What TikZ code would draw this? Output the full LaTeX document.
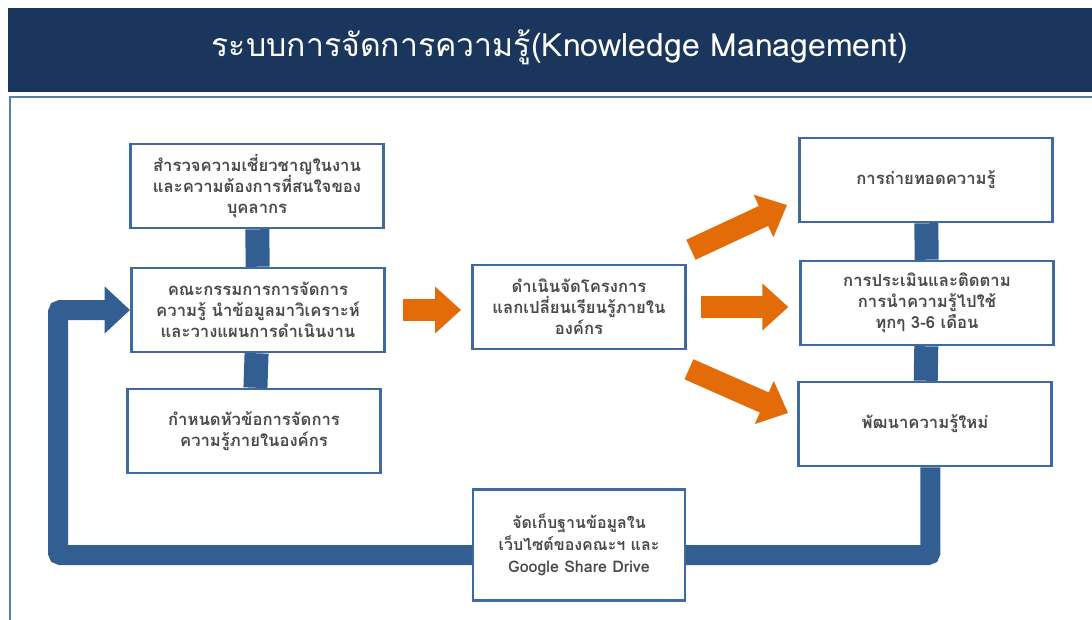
\documentclass[tikz,border=0pt]{standalone}
\usepackage{fontspec}
\setmainfont[Script=Thai]{Loma}
\usetikzlibrary{arrows.meta,backgrounds}

\def\unit{0.75pt}
\definecolor{navy}{HTML}{1B365D}
\definecolor{boxblue}{HTML}{3D6AA0}
\definecolor{linkblue}{HTML}{335E92}
\definecolor{kmorange}{HTML}{E36C09}
\definecolor{textgray}{HTML}{4A4A4A}

\tikzstyle{box}=[draw=boxblue,line width=1.9pt,fill=white,minimum width=190pt,minimum height=63pt,align=center,text=textgray,font=\fontsize{12.5}{15.75}\selectfont\bfseries,inner sep=2pt]
\tikzstyle{link}=[draw=linkblue,line width=18pt]
\tikzstyle{bigarrow}=[draw=kmorange,line width=16.5pt,-{Triangle[length=19.5pt,width=34pt]}]

\begin{document}
\begin{tikzpicture}[x=\unit,y=-\unit]
       \useasboundingbox (0,0) rectangle (1092,619);
       \clip (0,0) rectangle (1092,619);
       % banner and frame
       \fill[navy] (8,8) rectangle (1100,92);
       \node[text=white,font=\fontsize{24}{28}\selectfont] (title) at (560,47) {ระบบการจัดการความรู้(Knowledge Management)};
       \draw[boxblue!85,line width=1.5pt] (10,97) rectangle (1110,640);

       \foreach \pos/\name/\txt in {{(257,186)/survey/{สำรวจความเชี่ยวชาญในงาน\\และความต้องการที่สนใจของ\\บุคลากร}},
                                    {(258,310)/committee/{คณะกรรมการการจัดการ\\ความรู้ นำข้อมูลมาวิเคราะห์\\และวางแผนการดำเนินงาน}},
                                    {(254,431)/topic/{กำหนดหัวข้อการจัดการ\\ความรู้ภายในองค์กร}},
                                    {(926,180)/transfer/{การถ่ายทอดความรู้}},
                                    {(927,303)/evaluate/{การประเมินและติดตาม\\การนำความรู้ไปใช้\\ทุกๆ 3-6 เดือน}},
                                    {(925,424)/develop/{พัฒนาความรู้ใหม่}}} {
           \node[box] (\name) at \pos {\txt};
       }
       \node[box,minimum width=160pt] (project) at (579,307) {ดำเนินจัดโครงการ\\แลกเปลี่ยนเรียนรู้ภายใน\\องค์กร};
       \node[box,minimum width=159pt,minimum height=83pt,font=\fontsize{12}{16.5}\selectfont\bfseries] (storage) at (579,545) {จัดเก็บฐานข้อมูลใน\\เว็บไซต์ของคณะฯ และ\\Google Share Drive};

       % blue links, behind the boxes
       \coordinate (corner) at (58,555);
       \begin{scope}[on background layer]
           \draw[link] (survey) -- (committee);
           \draw[link] (committee) -- (topic);
           \draw[link] (transfer) -- (evaluate);
           \draw[link] (evaluate) -- (develop);
           \draw[link,line width=15pt,rounded corners=2pt,-{Triangle[length=19pt,width=34pt]}]
               ([xshift=4]develop.south) |- (corner) |- (committee.west);
       \end{scope}

       % orange arrows
       \draw[bigarrow,shorten <=12.75pt,shorten >=7.5pt] (committee.east) -- (committee.east -| project.west);
       \draw[bigarrow,shorten <=10.5pt,shorten >=8pt] (project.east) -- (project.east -| evaluate.west);
       \draw[bigarrow] ([shift={(4,-14)}]project.north east) -- ([shift={(-11,25)}]transfer.west);
       \draw[bigarrow] ([shift={(2,19)}]project.south east) -- ([shift={(-9,-11)}]develop.west);
\end{tikzpicture}
\end{document}
